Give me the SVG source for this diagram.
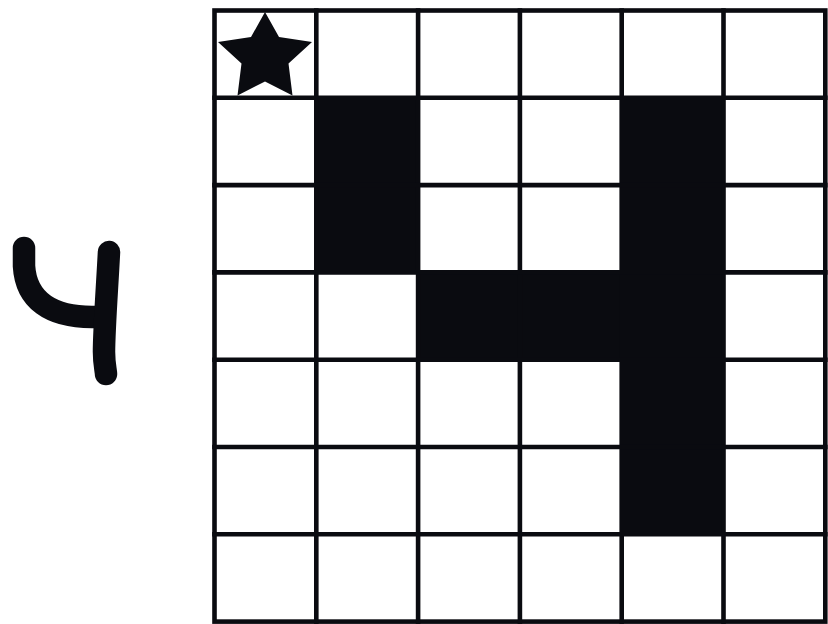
<svg xmlns="http://www.w3.org/2000/svg" width="828" height="624" viewBox="0 0 828 624">
<style>
.fill{fill:#0a0b10}
.grid{stroke:#0a0b10;stroke-width:4.6;fill:none;stroke-linecap:square}
.hand{stroke:#0a0b10;stroke-width:22.5;fill:none;stroke-linecap:round;stroke-linejoin:round}
</style>
<rect width="828" height="624" fill="#ffffff"/>
<g id="digit">
<path class="hand" d="M24 248 L24 266 C26 300 50 317 92 317 L104 317"/>
<path class="hand" d="M109 252 C107 290 104 330 104 352 C104 364 106 371 106 374"/>
</g>
<g id="filled-cells" class="fill">
<rect x="316.3" y="97.8" width="101.8" height="174.6"/>
<rect x="418.1" y="272.4" width="203.6" height="87.3"/>
<rect x="621.7" y="97.8" width="101.8" height="436.5"/>
</g>
<g id="grid" class="grid">
<rect x="214.5" y="10.5" width="610.8" height="611.1"/>
<path d="M316.3 10.5V621.6M418.1 10.5V621.6M519.9 10.5V621.6M621.7 10.5V621.6M723.5 10.5V621.6"/>
<path d="M214.5 97.8H825.3M214.5 185.1H825.3M214.5 272.4H825.3M214.5 359.7H825.3M214.5 447H825.3M214.5 534.3H825.3"/>
</g>
<g id="star">
<polygon class="fill" points="265,12 279,37 312,42 288.5,63.5 292.5,95.5 265,81.5 237.5,95.5 241.5,63.5 218,42 251,37"/>
</g>
</svg>
